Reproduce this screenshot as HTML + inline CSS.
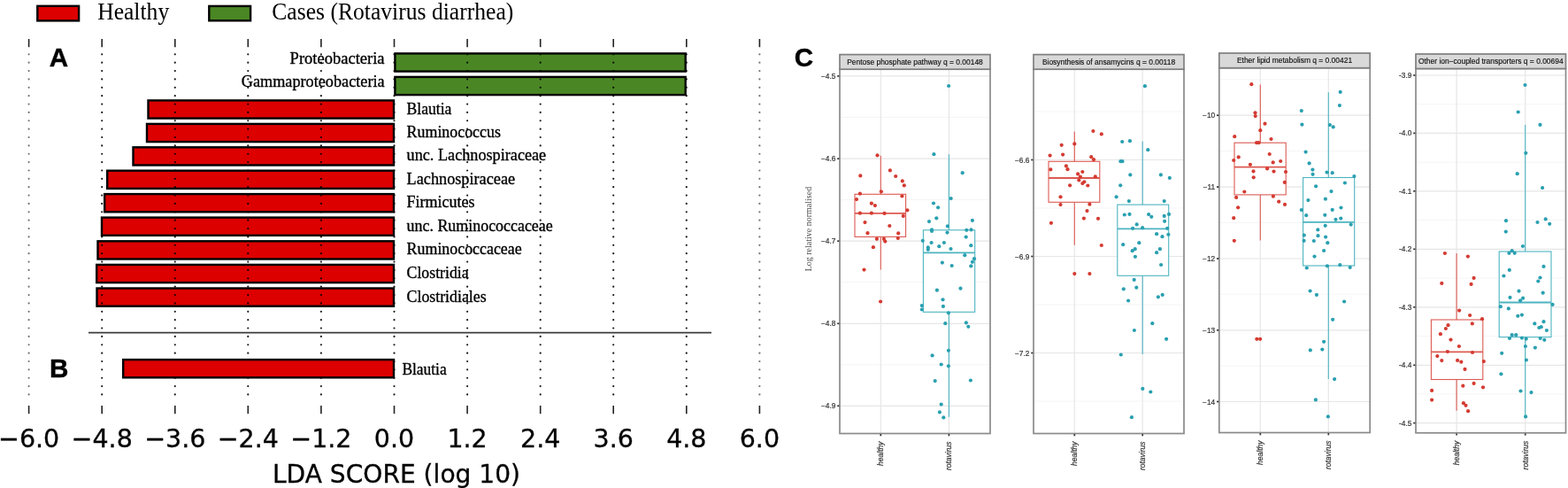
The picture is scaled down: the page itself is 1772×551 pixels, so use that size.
<!DOCTYPE html>
<html lang="en"><head><meta charset="utf-8"><title>LDA score and pathway boxplots</title>
<style>
html,body{margin:0;padding:0;background:#fff;}
body{width:1772px;height:551px;overflow:hidden;}
svg{display:block;}
.serif{font-family:"Liberation Serif","DejaVu Serif",serif;}
.sans{font-family:"Liberation Sans","DejaVu Sans",sans-serif;}
.dv{font-family:"DejaVu Sans","Liberation Sans",sans-serif;}
.lab{font-size:19.5px;fill:#000;stroke:#000;stroke-width:0.35px;}
.leg{font-size:27.2px;fill:#000;}
.tick{font-size:28.5px;fill:#000;text-anchor:middle;stroke:#000;stroke-width:0.3px;}
.pl{font-size:29.6px;font-weight:bold;fill:#000;stroke:#000;stroke-width:0.4px;}
.st{font-size:8.45px;fill:#111;text-anchor:middle;stroke:#111;stroke-width:0.15px;}
.yt{font-size:8.3px;fill:#333;text-anchor:end;stroke:#333;stroke-width:0.2px;}
.xt{font-size:8.5px;fill:#333;text-anchor:end;font-style:italic;stroke:#333;stroke-width:0.2px;}
</style></head><body>
<svg width="1772" height="551" viewBox="0 0 1772 551" role="img" aria-label="LDA score bar chart and pathway boxplots">
<rect x="0" y="0" width="1772" height="551" fill="#ffffff"/>
<g id="lda">
<rect x="42.3" y="6.8" width="46.8" height="16.6" fill="#dc0000" stroke="#000" stroke-width="2.4"/>
<rect x="236.3" y="6.9" width="46.8" height="16.4" fill="#4a8724" stroke="#000" stroke-width="2.4"/>
<text class="serif leg" x="110.2" y="21.7" textLength="81" lengthAdjust="spacingAndGlyphs">Healthy</text>
<text class="serif leg" x="307.3" y="21.7" textLength="273" lengthAdjust="spacingAndGlyphs">Cases (Rotavirus diarrhea)</text>
<rect x="446.4" y="60.4" width="328.3" height="20.2" fill="#4a8724" stroke="#000" stroke-width="2.4"/>
<rect x="446.4" y="86.9" width="328.3" height="20.2" fill="#4a8724" stroke="#000" stroke-width="2.4"/>
<rect x="167.5" y="113.4" width="277.5" height="20.2" fill="#dc0000" stroke="#000" stroke-width="2.4"/>
<rect x="166.0" y="139.9" width="279.0" height="20.2" fill="#dc0000" stroke="#000" stroke-width="2.4"/>
<rect x="150.5" y="166.3" width="294.5" height="20.2" fill="#dc0000" stroke="#000" stroke-width="2.4"/>
<rect x="121.2" y="192.7" width="323.8" height="20.2" fill="#dc0000" stroke="#000" stroke-width="2.4"/>
<rect x="118.2" y="219.1" width="326.8" height="20.2" fill="#dc0000" stroke="#000" stroke-width="2.4"/>
<rect x="115.0" y="245.6" width="330.0" height="20.2" fill="#dc0000" stroke="#000" stroke-width="2.4"/>
<rect x="110.5" y="272.3" width="334.5" height="20.2" fill="#dc0000" stroke="#000" stroke-width="2.4"/>
<rect x="109.2" y="298.9" width="335.8" height="20.2" fill="#dc0000" stroke="#000" stroke-width="2.4"/>
<rect x="109.5" y="325.5" width="335.5" height="20.2" fill="#dc0000" stroke="#000" stroke-width="2.4"/>
<line x1="100" y1="375.6" x2="804" y2="375.6" stroke="#3c3c3c" stroke-width="1.9"/>
<line x1="32.6" y1="61.3" x2="32.6" y2="452" stroke="#000" stroke-opacity="0.55" stroke-width="2.2" stroke-linecap="round" stroke-dasharray="0.01 9.36"/>
<line x1="32.6" y1="44" x2="32.6" y2="53.2" stroke="#222" stroke-width="1.6"/>
<line x1="32.6" y1="458" x2="32.6" y2="467.2" stroke="#222" stroke-width="1.6"/>
<line x1="115.2" y1="61.3" x2="115.2" y2="452" stroke="#000" stroke-opacity="0.9" stroke-width="2.2" stroke-linecap="round" stroke-dasharray="0.01 9.36"/>
<line x1="115.2" y1="44" x2="115.2" y2="53.2" stroke="#222" stroke-width="1.6"/>
<line x1="115.2" y1="458" x2="115.2" y2="467.2" stroke="#222" stroke-width="1.6"/>
<line x1="197.8" y1="61.3" x2="197.8" y2="452" stroke="#000" stroke-opacity="0.9" stroke-width="2.2" stroke-linecap="round" stroke-dasharray="0.01 9.36"/>
<line x1="197.8" y1="44" x2="197.8" y2="53.2" stroke="#222" stroke-width="1.6"/>
<line x1="197.8" y1="458" x2="197.8" y2="467.2" stroke="#222" stroke-width="1.6"/>
<line x1="280.3" y1="61.3" x2="280.3" y2="452" stroke="#000" stroke-opacity="0.9" stroke-width="2.2" stroke-linecap="round" stroke-dasharray="0.01 9.36"/>
<line x1="280.3" y1="44" x2="280.3" y2="53.2" stroke="#222" stroke-width="1.6"/>
<line x1="280.3" y1="458" x2="280.3" y2="467.2" stroke="#222" stroke-width="1.6"/>
<line x1="362.9" y1="61.3" x2="362.9" y2="452" stroke="#000" stroke-opacity="0.9" stroke-width="2.2" stroke-linecap="round" stroke-dasharray="0.01 9.36"/>
<line x1="362.9" y1="44" x2="362.9" y2="53.2" stroke="#222" stroke-width="1.6"/>
<line x1="362.9" y1="458" x2="362.9" y2="467.2" stroke="#222" stroke-width="1.6"/>
<line x1="445.5" y1="61.3" x2="445.5" y2="452" stroke="#000" stroke-opacity="0.9" stroke-width="2.2" stroke-linecap="round" stroke-dasharray="0.01 9.36"/>
<line x1="445.5" y1="44" x2="445.5" y2="53.2" stroke="#222" stroke-width="1.6"/>
<line x1="445.5" y1="458" x2="445.5" y2="467.2" stroke="#222" stroke-width="1.6"/>
<line x1="528.1" y1="61.3" x2="528.1" y2="452" stroke="#000" stroke-opacity="0.9" stroke-width="2.2" stroke-linecap="round" stroke-dasharray="0.01 9.36"/>
<line x1="528.1" y1="44" x2="528.1" y2="53.2" stroke="#222" stroke-width="1.6"/>
<line x1="528.1" y1="458" x2="528.1" y2="467.2" stroke="#222" stroke-width="1.6"/>
<line x1="610.7" y1="61.3" x2="610.7" y2="452" stroke="#000" stroke-opacity="0.9" stroke-width="2.2" stroke-linecap="round" stroke-dasharray="0.01 9.36"/>
<line x1="610.7" y1="44" x2="610.7" y2="53.2" stroke="#222" stroke-width="1.6"/>
<line x1="610.7" y1="458" x2="610.7" y2="467.2" stroke="#222" stroke-width="1.6"/>
<line x1="693.2" y1="61.3" x2="693.2" y2="452" stroke="#000" stroke-opacity="0.9" stroke-width="2.2" stroke-linecap="round" stroke-dasharray="0.01 9.36"/>
<line x1="693.2" y1="44" x2="693.2" y2="53.2" stroke="#222" stroke-width="1.6"/>
<line x1="693.2" y1="458" x2="693.2" y2="467.2" stroke="#222" stroke-width="1.6"/>
<line x1="775.8" y1="61.3" x2="775.8" y2="452" stroke="#000" stroke-opacity="0.9" stroke-width="2.2" stroke-linecap="round" stroke-dasharray="0.01 9.36"/>
<line x1="775.8" y1="44" x2="775.8" y2="53.2" stroke="#222" stroke-width="1.6"/>
<line x1="775.8" y1="458" x2="775.8" y2="467.2" stroke="#222" stroke-width="1.6"/>
<line x1="858.4" y1="61.3" x2="858.4" y2="452" stroke="#000" stroke-opacity="0.55" stroke-width="2.2" stroke-linecap="round" stroke-dasharray="0.01 9.36"/>
<line x1="858.4" y1="44" x2="858.4" y2="53.2" stroke="#222" stroke-width="1.6"/>
<line x1="858.4" y1="458" x2="858.4" y2="467.2" stroke="#222" stroke-width="1.6"/>
<rect x="139.2" y="406.1" width="305.8" height="20.2" fill="#dc0000" stroke="#000" stroke-width="2.4"/>
<text class="serif lab" x="327.6" y="71.8" textLength="107.0" lengthAdjust="spacingAndGlyphs">Proteobacteria</text>
<text class="serif lab" x="272.8" y="98.3" textLength="161.8" lengthAdjust="spacingAndGlyphs">Gammaproteobacteria</text>
<text class="serif lab" x="459.6" y="128.5" textLength="50.8" lengthAdjust="spacingAndGlyphs">Blautia</text>
<text class="serif lab" x="459.6" y="155.0" textLength="106.3" lengthAdjust="spacingAndGlyphs">Ruminococcus</text>
<text class="serif lab" x="459.6" y="181.4" textLength="157.6" lengthAdjust="spacingAndGlyphs">unc. Lachnospiraceae</text>
<text class="serif lab" x="459.6" y="207.8" textLength="122.5" lengthAdjust="spacingAndGlyphs">Lachnospiraceae</text>
<text class="serif lab" x="459.6" y="234.2" textLength="77.0" lengthAdjust="spacingAndGlyphs">Firmicutes</text>
<text class="serif lab" x="459.6" y="260.7" textLength="165.1" lengthAdjust="spacingAndGlyphs">unc. Ruminococcaceae</text>
<text class="serif lab" x="459.6" y="287.4" textLength="130.1" lengthAdjust="spacingAndGlyphs">Ruminococcaceae</text>
<text class="serif lab" x="459.6" y="314.0" textLength="70.0" lengthAdjust="spacingAndGlyphs">Clostridia</text>
<text class="serif lab" x="459.6" y="340.6" textLength="90.0" lengthAdjust="spacingAndGlyphs">Clostridiales</text>
<text class="serif lab" x="454.4" y="422.8" textLength="50.3" lengthAdjust="spacingAndGlyphs">Blautia</text>
<text class="dv tick" x="32.6" y="505.3">−6.0</text>
<text class="dv tick" x="115.2" y="505.3">−4.8</text>
<text class="dv tick" x="197.8" y="505.3">−3.6</text>
<text class="dv tick" x="280.3" y="505.3">−2.4</text>
<text class="dv tick" x="362.9" y="505.3">−1.2</text>
<text class="dv tick" x="445.5" y="505.3">0.0</text>
<text class="dv tick" x="528.1" y="505.3">1.2</text>
<text class="dv tick" x="610.7" y="505.3">2.4</text>
<text class="dv tick" x="693.2" y="505.3">3.6</text>
<text class="dv tick" x="775.8" y="505.3">4.8</text>
<text class="dv tick" x="858.4" y="505.3">6.0</text>
<text class="dv tick" x="448" y="544.5" style="font-size:28.1px">LDA SCORE (log 10)</text>
<text class="sans pl" x="55.7" y="74.9">A</text>
<text class="sans pl" x="56.0" y="425.5">B</text>
<text class="sans pl" x="897.8" y="75.0">C</text>
</g>
<defs><filter id="soft" x="-2%" y="-2%" width="104%" height="104%"><feGaussianBlur stdDeviation="0.6"/></filter></defs>
<g id="boxplots" filter="url(#soft)">
<text class="serif" font-size="10" fill="#4d4d4d" text-anchor="middle" transform="translate(916.6 258.6) rotate(-90)">Log relative normalised</text>
<rect x="949" y="78.2" width="170.0" height="411.3" fill="#fff"/>
<line x1="949" y1="132.4" x2="1119" y2="132.4" stroke="#f0f0f0" stroke-width="0.7"/>
<line x1="949" y1="225.5" x2="1119" y2="225.5" stroke="#f0f0f0" stroke-width="0.7"/>
<line x1="949" y1="318.6" x2="1119" y2="318.6" stroke="#f0f0f0" stroke-width="0.7"/>
<line x1="949" y1="411.8" x2="1119" y2="411.8" stroke="#f0f0f0" stroke-width="0.7"/>
<line x1="949" y1="85.9" x2="1119" y2="85.9" stroke="#e6e6e6" stroke-width="1.2"/>
<line x1="949" y1="179.2" x2="1119" y2="179.2" stroke="#e6e6e6" stroke-width="1.2"/>
<line x1="949" y1="272.2" x2="1119" y2="272.2" stroke="#e6e6e6" stroke-width="1.2"/>
<line x1="949" y1="365.3" x2="1119" y2="365.3" stroke="#e6e6e6" stroke-width="1.2"/>
<line x1="949" y1="458.3" x2="1119" y2="458.3" stroke="#e6e6e6" stroke-width="1.2"/>
<line x1="995.3" y1="78.2" x2="995.3" y2="489.5" stroke="#e6e6e6" stroke-width="1.2"/>
<line x1="1072.4" y1="78.2" x2="1072.4" y2="489.5" stroke="#e6e6e6" stroke-width="1.2"/>
<g stroke="#dc5a52" fill="none" stroke-width="1.1">
<line x1="995.3" y1="175.8" x2="995.3" y2="219.3"/>
<line x1="995.3" y1="267.4" x2="995.3" y2="304.4"/>
<rect x="966" y="219.3" width="57.6" height="48.1" fill="#fff"/>
<line x1="966" y1="240.9" x2="1023.6" y2="240.9" stroke-width="1.8"/>
</g>
<g fill="#d43a30">
<circle cx="991.5" cy="175.4" r="2.1"/>
<circle cx="972.3" cy="198.4" r="2.1"/>
<circle cx="1005.9" cy="192.4" r="2.1"/>
<circle cx="1012.2" cy="199.0" r="2.1"/>
<circle cx="1019.8" cy="204.4" r="2.1"/>
<circle cx="1021.8" cy="209.4" r="2.1"/>
<circle cx="995.9" cy="216.3" r="2.1"/>
<circle cx="971.9" cy="218.7" r="2.1"/>
<circle cx="1019.4" cy="221.5" r="2.1"/>
<circle cx="968.0" cy="225.1" r="2.1"/>
<circle cx="984.9" cy="229.7" r="2.1"/>
<circle cx="988.9" cy="232.1" r="2.1"/>
<circle cx="1025.4" cy="237.3" r="2.1"/>
<circle cx="971.9" cy="240.7" r="2.1"/>
<circle cx="984.9" cy="240.7" r="2.1"/>
<circle cx="999.5" cy="240.9" r="2.1"/>
<circle cx="1020.8" cy="243.9" r="2.1"/>
<circle cx="977.5" cy="251.1" r="2.1"/>
<circle cx="1005.3" cy="255.0" r="2.1"/>
<circle cx="980.5" cy="263.2" r="2.1"/>
<circle cx="1015.2" cy="263.4" r="2.1"/>
<circle cx="1014.8" cy="269.0" r="2.1"/>
<circle cx="990.9" cy="269.8" r="2.1"/>
<circle cx="998.9" cy="269.8" r="2.1"/>
<circle cx="1000.3" cy="272.6" r="2.1"/>
<circle cx="986.9" cy="279.2" r="2.1"/>
<circle cx="976.5" cy="304.6" r="2.1"/>
<circle cx="995.1" cy="340.5" r="2.1"/>
</g>
<g stroke="#4db4c0" fill="none" stroke-width="1.1">
<line x1="1072.4" y1="174.2" x2="1072.4" y2="259.8"/>
<line x1="1072.4" y1="352.3" x2="1072.4" y2="470.8"/>
<rect x="1043.4" y="259.8" width="58.3" height="92.5" fill="#fff"/>
<line x1="1043.4" y1="285.4" x2="1101.7" y2="285.4" stroke-width="1.8"/>
</g>
<g fill="#2aa0b0">
<circle cx="1072.1" cy="97.0" r="2.1"/>
<circle cx="1055.4" cy="174.2" r="2.1"/>
<circle cx="1087.7" cy="195.2" r="2.1"/>
<circle cx="1074.7" cy="224.1" r="2.1"/>
<circle cx="1055.0" cy="229.5" r="2.1"/>
<circle cx="1060.1" cy="234.3" r="2.1"/>
<circle cx="1058.3" cy="246.3" r="2.1"/>
<circle cx="1050.0" cy="250.1" r="2.1"/>
<circle cx="1098.9" cy="248.9" r="2.1"/>
<circle cx="1070.9" cy="255.4" r="2.1"/>
<circle cx="1053.0" cy="259.4" r="2.1"/>
<circle cx="1053.0" cy="261.0" r="2.1"/>
<circle cx="1070.5" cy="262.6" r="2.1"/>
<circle cx="1092.3" cy="259.8" r="2.1"/>
<circle cx="1097.5" cy="259.4" r="2.1"/>
<circle cx="1042.8" cy="271.8" r="2.1"/>
<circle cx="1091.7" cy="267.6" r="2.1"/>
<circle cx="1052.6" cy="274.0" r="2.1"/>
<circle cx="1066.9" cy="274.0" r="2.1"/>
<circle cx="1061.3" cy="278.2" r="2.1"/>
<circle cx="1048.8" cy="279.4" r="2.1"/>
<circle cx="1048.8" cy="281.8" r="2.1"/>
<circle cx="1074.5" cy="281.0" r="2.1"/>
<circle cx="1097.3" cy="277.2" r="2.1"/>
<circle cx="1090.3" cy="288.2" r="2.1"/>
<circle cx="1101.0" cy="292.2" r="2.1"/>
<circle cx="1098.9" cy="295.8" r="2.1"/>
<circle cx="1064.9" cy="296.6" r="2.1"/>
<circle cx="1097.3" cy="300.4" r="2.1"/>
<circle cx="1075.7" cy="300.0" r="2.1"/>
<circle cx="1058.9" cy="327.7" r="2.1"/>
<circle cx="1085.5" cy="325.7" r="2.1"/>
<circle cx="1065.5" cy="338.3" r="2.1"/>
<circle cx="1041.8" cy="345.1" r="2.1"/>
<circle cx="1041.8" cy="349.5" r="2.1"/>
<circle cx="1065.9" cy="345.9" r="2.1"/>
<circle cx="1071.9" cy="353.3" r="2.1"/>
<circle cx="1068.3" cy="365.2" r="2.1"/>
<circle cx="1091.9" cy="364.4" r="2.1"/>
<circle cx="1094.3" cy="368.8" r="2.1"/>
<circle cx="1071.9" cy="395.8" r="2.1"/>
<circle cx="1053.6" cy="401.4" r="2.1"/>
<circle cx="1063.7" cy="411.5" r="2.1"/>
<circle cx="1071.9" cy="413.3" r="2.1"/>
<circle cx="1056.7" cy="430.1" r="2.1"/>
<circle cx="1096.9" cy="429.5" r="2.1"/>
<circle cx="1063.7" cy="456.6" r="2.1"/>
<circle cx="1061.9" cy="465.4" r="2.1"/>
<circle cx="1066.3" cy="471.4" r="2.1"/>
</g>
<rect x="949" y="78.2" width="170.0" height="411.3" fill="none" stroke="#8a8a8a" stroke-width="1.7"/>
<rect x="949" y="61.6" width="170.0" height="16.6" fill="#d9d9d9" stroke="#7f7f7f" stroke-width="1.7"/>
<text class="sans st" x="1034.0" y="72.9">Pentose phosphate pathway q = 0.00148</text>
<line x1="946.2" y1="85.9" x2="948.4" y2="85.9" stroke="#333" stroke-width="1.7"/>
<text class="sans yt" x="944.4" y="88.9">−4.5</text>
<line x1="946.2" y1="179.2" x2="948.4" y2="179.2" stroke="#333" stroke-width="1.7"/>
<text class="sans yt" x="944.4" y="182.2">−4.6</text>
<line x1="946.2" y1="272.2" x2="948.4" y2="272.2" stroke="#333" stroke-width="1.7"/>
<text class="sans yt" x="944.4" y="275.2">−4.7</text>
<line x1="946.2" y1="365.3" x2="948.4" y2="365.3" stroke="#333" stroke-width="1.7"/>
<text class="sans yt" x="944.4" y="368.3">−4.8</text>
<line x1="946.2" y1="458.3" x2="948.4" y2="458.3" stroke="#333" stroke-width="1.7"/>
<text class="sans yt" x="944.4" y="461.3">−4.9</text>
<line x1="995.3" y1="490.1" x2="995.3" y2="492.3" stroke="#333" stroke-width="1.7"/>
<text class="sans xt" transform="translate(998.3 498.5) rotate(-90)">healthy</text>
<line x1="1072.4" y1="490.1" x2="1072.4" y2="492.3" stroke="#333" stroke-width="1.7"/>
<text class="sans xt" transform="translate(1075.4 498.5) rotate(-90)">rotavirus</text>
<rect x="1168" y="78.2" width="170.0" height="411.3" fill="#fff"/>
<line x1="1168" y1="126.0" x2="1338" y2="126.0" stroke="#f0f0f0" stroke-width="0.7"/>
<line x1="1168" y1="235.0" x2="1338" y2="235.0" stroke="#f0f0f0" stroke-width="0.7"/>
<line x1="1168" y1="344.0" x2="1338" y2="344.0" stroke="#f0f0f0" stroke-width="0.7"/>
<line x1="1168" y1="453.0" x2="1338" y2="453.0" stroke="#f0f0f0" stroke-width="0.7"/>
<line x1="1168" y1="180.5" x2="1338" y2="180.5" stroke="#e6e6e6" stroke-width="1.2"/>
<line x1="1168" y1="289.5" x2="1338" y2="289.5" stroke="#e6e6e6" stroke-width="1.2"/>
<line x1="1168" y1="398.5" x2="1338" y2="398.5" stroke="#e6e6e6" stroke-width="1.2"/>
<line x1="1214.3" y1="78.2" x2="1214.3" y2="489.5" stroke="#e6e6e6" stroke-width="1.2"/>
<line x1="1291.2" y1="78.2" x2="1291.2" y2="489.5" stroke="#e6e6e6" stroke-width="1.2"/>
<g stroke="#dc5a52" fill="none" stroke-width="1.1">
<line x1="1214.3" y1="148.4" x2="1214.3" y2="182.3"/>
<line x1="1214.3" y1="228.3" x2="1214.3" y2="276.8"/>
<rect x="1185" y="182.3" width="57.8" height="46.0" fill="#fff"/>
<line x1="1185" y1="201" x2="1242.8" y2="201" stroke-width="1.8"/>
</g>
<g fill="#d43a30">
<circle cx="1235.4" cy="148.0" r="2.1"/>
<circle cx="1244.8" cy="151.4" r="2.1"/>
<circle cx="1199.7" cy="163.8" r="2.1"/>
<circle cx="1214.3" cy="162.4" r="2.1"/>
<circle cx="1201.1" cy="174.6" r="2.1"/>
<circle cx="1186.6" cy="175.6" r="2.1"/>
<circle cx="1233.2" cy="177.2" r="2.1"/>
<circle cx="1236.0" cy="180.2" r="2.1"/>
<circle cx="1204.9" cy="187.4" r="2.1"/>
<circle cx="1206.5" cy="191.2" r="2.1"/>
<circle cx="1187.3" cy="191.4" r="2.1"/>
<circle cx="1223.3" cy="194.0" r="2.1"/>
<circle cx="1218.1" cy="196.4" r="2.1"/>
<circle cx="1220.9" cy="199.6" r="2.1"/>
<circle cx="1237.8" cy="199.4" r="2.1"/>
<circle cx="1219.3" cy="203.5" r="2.1"/>
<circle cx="1225.3" cy="205.3" r="2.1"/>
<circle cx="1223.3" cy="207.1" r="2.1"/>
<circle cx="1209.1" cy="209.3" r="2.1"/>
<circle cx="1229.3" cy="209.5" r="2.1"/>
<circle cx="1198.5" cy="222.3" r="2.1"/>
<circle cx="1198.5" cy="231.1" r="2.1"/>
<circle cx="1231.4" cy="230.7" r="2.1"/>
<circle cx="1228.5" cy="238.1" r="2.1"/>
<circle cx="1224.9" cy="246.6" r="2.1"/>
<circle cx="1241.0" cy="246.8" r="2.1"/>
<circle cx="1187.9" cy="251.8" r="2.1"/>
<circle cx="1244.8" cy="277.0" r="2.1"/>
<circle cx="1214.3" cy="309.1" r="2.1"/>
<circle cx="1231.4" cy="309.1" r="2.1"/>
</g>
<g stroke="#4db4c0" fill="none" stroke-width="1.1">
<line x1="1291.2" y1="159.4" x2="1291.2" y2="231.1"/>
<line x1="1291.2" y1="311.3" x2="1291.2" y2="400"/>
<rect x="1262.8" y="231.1" width="57.9" height="80.2" fill="#fff"/>
<line x1="1262.8" y1="258.4" x2="1320.7" y2="258.4" stroke-width="1.8"/>
</g>
<g fill="#2aa0b0">
<circle cx="1293.9" cy="97.2" r="2.1"/>
<circle cx="1268.2" cy="160.0" r="2.1"/>
<circle cx="1276.9" cy="159.2" r="2.1"/>
<circle cx="1297.3" cy="169.2" r="2.1"/>
<circle cx="1266.4" cy="182.2" r="2.1"/>
<circle cx="1268.4" cy="182.2" r="2.1"/>
<circle cx="1277.3" cy="197.4" r="2.1"/>
<circle cx="1311.9" cy="197.4" r="2.1"/>
<circle cx="1321.8" cy="200.9" r="2.1"/>
<circle cx="1266.2" cy="209.3" r="2.1"/>
<circle cx="1261.6" cy="222.3" r="2.1"/>
<circle cx="1275.9" cy="227.1" r="2.1"/>
<circle cx="1315.7" cy="227.1" r="2.1"/>
<circle cx="1270.8" cy="242.5" r="2.1"/>
<circle cx="1276.5" cy="241.9" r="2.1"/>
<circle cx="1298.1" cy="242.1" r="2.1"/>
<circle cx="1301.3" cy="244.8" r="2.1"/>
<circle cx="1315.7" cy="243.9" r="2.1"/>
<circle cx="1321.0" cy="241.9" r="2.1"/>
<circle cx="1316.1" cy="249.8" r="2.1"/>
<circle cx="1284.7" cy="253.4" r="2.1"/>
<circle cx="1280.1" cy="257.8" r="2.1"/>
<circle cx="1291.1" cy="257.2" r="2.1"/>
<circle cx="1319.2" cy="257.8" r="2.1"/>
<circle cx="1307.1" cy="264.2" r="2.1"/>
<circle cx="1320.4" cy="264.8" r="2.1"/>
<circle cx="1313.5" cy="267.2" r="2.1"/>
<circle cx="1269.2" cy="276.2" r="2.1"/>
<circle cx="1287.3" cy="274.2" r="2.1"/>
<circle cx="1282.7" cy="281.2" r="2.1"/>
<circle cx="1279.7" cy="283.2" r="2.1"/>
<circle cx="1310.9" cy="281.2" r="2.1"/>
<circle cx="1307.1" cy="285.2" r="2.1"/>
<circle cx="1282.9" cy="289.8" r="2.1"/>
<circle cx="1312.1" cy="299.0" r="2.1"/>
<circle cx="1281.7" cy="315.9" r="2.1"/>
<circle cx="1269.8" cy="326.3" r="2.1"/>
<circle cx="1284.3" cy="324.7" r="2.1"/>
<circle cx="1313.7" cy="332.9" r="2.1"/>
<circle cx="1308.9" cy="335.3" r="2.1"/>
<circle cx="1275.1" cy="339.5" r="2.1"/>
<circle cx="1302.3" cy="365.2" r="2.1"/>
<circle cx="1281.9" cy="373.0" r="2.1"/>
<circle cx="1318.1" cy="382.8" r="2.1"/>
<circle cx="1266.8" cy="400.5" r="2.1"/>
<circle cx="1291.3" cy="438.9" r="2.1"/>
<circle cx="1300.3" cy="442.5" r="2.1"/>
<circle cx="1278.9" cy="471.2" r="2.1"/>
</g>
<rect x="1168" y="78.2" width="170.0" height="411.3" fill="none" stroke="#8a8a8a" stroke-width="1.7"/>
<rect x="1168" y="61.6" width="170.0" height="16.6" fill="#d9d9d9" stroke="#7f7f7f" stroke-width="1.7"/>
<text class="sans st" x="1253.0" y="72.9">Biosynthesis of ansamycins q = 0.00118</text>
<line x1="1165.2" y1="180.5" x2="1167.4" y2="180.5" stroke="#333" stroke-width="1.7"/>
<text class="sans yt" x="1163.4" y="183.5">−6.6</text>
<line x1="1165.2" y1="289.5" x2="1167.4" y2="289.5" stroke="#333" stroke-width="1.7"/>
<text class="sans yt" x="1163.4" y="292.5">−6.9</text>
<line x1="1165.2" y1="398.5" x2="1167.4" y2="398.5" stroke="#333" stroke-width="1.7"/>
<text class="sans yt" x="1163.4" y="401.5">−7.2</text>
<line x1="1214.3" y1="490.1" x2="1214.3" y2="492.3" stroke="#333" stroke-width="1.7"/>
<text class="sans xt" transform="translate(1217.3 498.5) rotate(-90)">healthy</text>
<line x1="1291.2" y1="490.1" x2="1291.2" y2="492.3" stroke="#333" stroke-width="1.7"/>
<text class="sans xt" transform="translate(1294.2 498.5) rotate(-90)">rotavirus</text>
<rect x="1377.8" y="76.7" width="170.4" height="411.8" fill="#fff"/>
<line x1="1377.8" y1="89.8" x2="1548.2" y2="89.8" stroke="#f0f0f0" stroke-width="0.7"/>
<line x1="1377.8" y1="170.6" x2="1548.2" y2="170.6" stroke="#f0f0f0" stroke-width="0.7"/>
<line x1="1377.8" y1="251.4" x2="1548.2" y2="251.4" stroke="#f0f0f0" stroke-width="0.7"/>
<line x1="1377.8" y1="332.3" x2="1548.2" y2="332.3" stroke="#f0f0f0" stroke-width="0.7"/>
<line x1="1377.8" y1="413.1" x2="1548.2" y2="413.1" stroke="#f0f0f0" stroke-width="0.7"/>
<line x1="1377.8" y1="130.2" x2="1548.2" y2="130.2" stroke="#e6e6e6" stroke-width="1.2"/>
<line x1="1377.8" y1="211.1" x2="1548.2" y2="211.1" stroke="#e6e6e6" stroke-width="1.2"/>
<line x1="1377.8" y1="292.0" x2="1548.2" y2="292.0" stroke="#e6e6e6" stroke-width="1.2"/>
<line x1="1377.8" y1="372.8" x2="1548.2" y2="372.8" stroke="#e6e6e6" stroke-width="1.2"/>
<line x1="1377.8" y1="453.5" x2="1548.2" y2="453.5" stroke="#e6e6e6" stroke-width="1.2"/>
<line x1="1424.3" y1="76.7" x2="1424.3" y2="488.5" stroke="#e6e6e6" stroke-width="1.2"/>
<line x1="1501.3" y1="76.7" x2="1501.3" y2="488.5" stroke="#e6e6e6" stroke-width="1.2"/>
<g stroke="#dc5a52" fill="none" stroke-width="1.1">
<line x1="1424.3" y1="95.4" x2="1424.3" y2="161.2"/>
<line x1="1424.3" y1="219.9" x2="1424.3" y2="271.4"/>
<rect x="1395" y="161.2" width="58.2" height="58.7" fill="#fff"/>
<line x1="1395" y1="188.6" x2="1453.2" y2="188.6" stroke-width="1.8"/>
</g>
<g fill="#d43a30">
<circle cx="1414.3" cy="95.2" r="2.1"/>
<circle cx="1418.5" cy="127.3" r="2.1"/>
<circle cx="1418.7" cy="131.1" r="2.1"/>
<circle cx="1429.5" cy="139.7" r="2.1"/>
<circle cx="1424.3" cy="147.2" r="2.1"/>
<circle cx="1395.2" cy="154.2" r="2.1"/>
<circle cx="1436.5" cy="157.0" r="2.1"/>
<circle cx="1420.1" cy="161.2" r="2.1"/>
<circle cx="1422.5" cy="161.2" r="2.1"/>
<circle cx="1434.7" cy="174.0" r="2.1"/>
<circle cx="1399.7" cy="177.4" r="2.1"/>
<circle cx="1394.2" cy="181.0" r="2.1"/>
<circle cx="1438.7" cy="183.4" r="2.1"/>
<circle cx="1447.2" cy="182.0" r="2.1"/>
<circle cx="1412.9" cy="185.8" r="2.1"/>
<circle cx="1416.5" cy="193.4" r="2.1"/>
<circle cx="1432.1" cy="190.4" r="2.1"/>
<circle cx="1439.5" cy="193.6" r="2.1"/>
<circle cx="1453.0" cy="194.0" r="2.1"/>
<circle cx="1416.7" cy="200.3" r="2.1"/>
<circle cx="1451.8" cy="205.9" r="2.1"/>
<circle cx="1406.3" cy="216.5" r="2.1"/>
<circle cx="1397.1" cy="222.9" r="2.1"/>
<circle cx="1438.9" cy="221.7" r="2.1"/>
<circle cx="1445.2" cy="227.7" r="2.1"/>
<circle cx="1452.0" cy="230.9" r="2.1"/>
<circle cx="1399.1" cy="234.3" r="2.1"/>
<circle cx="1394.2" cy="246.2" r="2.1"/>
<circle cx="1394.8" cy="271.8" r="2.1"/>
<circle cx="1420.3" cy="382.8" r="2.1"/>
<circle cx="1424.1" cy="382.8" r="2.1"/>
</g>
<g stroke="#4db4c0" fill="none" stroke-width="1.1">
<line x1="1501.3" y1="104.3" x2="1501.3" y2="200.5"/>
<line x1="1501.3" y1="300" x2="1501.3" y2="427.9"/>
<rect x="1472.6" y="200.5" width="58.1" height="99.5" fill="#fff"/>
<line x1="1472.6" y1="250.8" x2="1530.7" y2="250.8" stroke-width="1.8"/>
</g>
<g fill="#2aa0b0">
<circle cx="1514.7" cy="103.9" r="2.1"/>
<circle cx="1513.9" cy="119.1" r="2.1"/>
<circle cx="1470.8" cy="125.1" r="2.1"/>
<circle cx="1471.4" cy="140.7" r="2.1"/>
<circle cx="1502.9" cy="141.1" r="2.1"/>
<circle cx="1506.7" cy="143.4" r="2.1"/>
<circle cx="1475.6" cy="171.6" r="2.1"/>
<circle cx="1479.6" cy="184.4" r="2.1"/>
<circle cx="1483.4" cy="191.6" r="2.1"/>
<circle cx="1483.6" cy="196.8" r="2.1"/>
<circle cx="1499.5" cy="194.6" r="2.1"/>
<circle cx="1505.7" cy="195.2" r="2.1"/>
<circle cx="1530.4" cy="199.1" r="2.1"/>
<circle cx="1519.9" cy="206.5" r="2.1"/>
<circle cx="1487.1" cy="210.3" r="2.1"/>
<circle cx="1504.5" cy="216.1" r="2.1"/>
<circle cx="1478.4" cy="226.1" r="2.1"/>
<circle cx="1497.9" cy="224.7" r="2.1"/>
<circle cx="1470.8" cy="237.1" r="2.1"/>
<circle cx="1505.7" cy="236.9" r="2.1"/>
<circle cx="1515.5" cy="234.5" r="2.1"/>
<circle cx="1476.2" cy="243.2" r="2.1"/>
<circle cx="1497.3" cy="242.8" r="2.1"/>
<circle cx="1509.5" cy="247.8" r="2.1"/>
<circle cx="1515.3" cy="246.6" r="2.1"/>
<circle cx="1526.7" cy="253.6" r="2.1"/>
<circle cx="1497.7" cy="254.8" r="2.1"/>
<circle cx="1489.3" cy="259.4" r="2.1"/>
<circle cx="1473.8" cy="265.6" r="2.1"/>
<circle cx="1489.5" cy="266.2" r="2.1"/>
<circle cx="1498.1" cy="267.6" r="2.1"/>
<circle cx="1473.6" cy="271.8" r="2.1"/>
<circle cx="1484.8" cy="272.0" r="2.1"/>
<circle cx="1500.3" cy="274.2" r="2.1"/>
<circle cx="1496.1" cy="283.0" r="2.1"/>
<circle cx="1485.5" cy="289.6" r="2.1"/>
<circle cx="1476.8" cy="302.5" r="2.1"/>
<circle cx="1499.9" cy="300.3" r="2.1"/>
<circle cx="1514.3" cy="299.1" r="2.1"/>
<circle cx="1525.7" cy="301.9" r="2.1"/>
<circle cx="1480.6" cy="328.5" r="2.1"/>
<circle cx="1487.9" cy="332.9" r="2.1"/>
<circle cx="1519.1" cy="340.5" r="2.1"/>
<circle cx="1506.1" cy="360.8" r="2.1"/>
<circle cx="1496.1" cy="385.8" r="2.1"/>
<circle cx="1480.8" cy="395.4" r="2.1"/>
<circle cx="1494.3" cy="394.6" r="2.1"/>
<circle cx="1508.1" cy="428.1" r="2.1"/>
<circle cx="1486.9" cy="451.4" r="2.1"/>
<circle cx="1500.9" cy="470.4" r="2.1"/>
</g>
<rect x="1377.8" y="76.7" width="170.4" height="411.8" fill="none" stroke="#8a8a8a" stroke-width="1.7"/>
<rect x="1377.8" y="60" width="170.4" height="16.7" fill="#d9d9d9" stroke="#7f7f7f" stroke-width="1.7"/>
<text class="sans st" x="1463.0" y="71.3">Ether lipid metabolism q = 0.00421</text>
<line x1="1375.0" y1="130.2" x2="1377.2" y2="130.2" stroke="#333" stroke-width="1.7"/>
<text class="sans yt" x="1373.2" y="133.2">−10</text>
<line x1="1375.0" y1="211.1" x2="1377.2" y2="211.1" stroke="#333" stroke-width="1.7"/>
<text class="sans yt" x="1373.2" y="214.1">−11</text>
<line x1="1375.0" y1="292.0" x2="1377.2" y2="292.0" stroke="#333" stroke-width="1.7"/>
<text class="sans yt" x="1373.2" y="295.0">−12</text>
<line x1="1375.0" y1="372.8" x2="1377.2" y2="372.8" stroke="#333" stroke-width="1.7"/>
<text class="sans yt" x="1373.2" y="375.8">−13</text>
<line x1="1375.0" y1="453.5" x2="1377.2" y2="453.5" stroke="#333" stroke-width="1.7"/>
<text class="sans yt" x="1373.2" y="456.5">−14</text>
<line x1="1424.3" y1="489.1" x2="1424.3" y2="491.3" stroke="#333" stroke-width="1.7"/>
<text class="sans xt" transform="translate(1427.3 497.5) rotate(-90)">healthy</text>
<line x1="1501.3" y1="489.1" x2="1501.3" y2="491.3" stroke="#333" stroke-width="1.7"/>
<text class="sans xt" transform="translate(1504.3 497.5) rotate(-90)">rotavirus</text>
<rect x="1600" y="77.5" width="169.5" height="411.3" fill="#fff"/>
<line x1="1600" y1="117.7" x2="1769.5" y2="117.7" stroke="#f0f0f0" stroke-width="0.7"/>
<line x1="1600" y1="183.2" x2="1769.5" y2="183.2" stroke="#f0f0f0" stroke-width="0.7"/>
<line x1="1600" y1="248.6" x2="1769.5" y2="248.6" stroke="#f0f0f0" stroke-width="0.7"/>
<line x1="1600" y1="314.0" x2="1769.5" y2="314.0" stroke="#f0f0f0" stroke-width="0.7"/>
<line x1="1600" y1="379.4" x2="1769.5" y2="379.4" stroke="#f0f0f0" stroke-width="0.7"/>
<line x1="1600" y1="444.9" x2="1769.5" y2="444.9" stroke="#f0f0f0" stroke-width="0.7"/>
<line x1="1600" y1="85.0" x2="1769.5" y2="85.0" stroke="#e6e6e6" stroke-width="1.2"/>
<line x1="1600" y1="150.4" x2="1769.5" y2="150.4" stroke="#e6e6e6" stroke-width="1.2"/>
<line x1="1600" y1="215.8" x2="1769.5" y2="215.8" stroke="#e6e6e6" stroke-width="1.2"/>
<line x1="1600" y1="281.3" x2="1769.5" y2="281.3" stroke="#e6e6e6" stroke-width="1.2"/>
<line x1="1600" y1="346.8" x2="1769.5" y2="346.8" stroke="#e6e6e6" stroke-width="1.2"/>
<line x1="1600" y1="412.3" x2="1769.5" y2="412.3" stroke="#e6e6e6" stroke-width="1.2"/>
<line x1="1600" y1="477.6" x2="1769.5" y2="477.6" stroke="#e6e6e6" stroke-width="1.2"/>
<line x1="1646.1" y1="77.5" x2="1646.1" y2="488.8" stroke="#e6e6e6" stroke-width="1.2"/>
<line x1="1723.7" y1="77.5" x2="1723.7" y2="488.8" stroke="#e6e6e6" stroke-width="1.2"/>
<g stroke="#dc5a52" fill="none" stroke-width="1.1">
<line x1="1646.1" y1="286" x2="1646.1" y2="361"/>
<line x1="1646.1" y1="428.5" x2="1646.1" y2="463.8"/>
<rect x="1617.4" y="361" width="58.4" height="67.5" fill="#fff"/>
<line x1="1617.4" y1="397.4" x2="1675.8" y2="397.4" stroke-width="1.8"/>
</g>
<g fill="#d43a30">
<circle cx="1632.9" cy="286.0" r="2.1"/>
<circle cx="1658.9" cy="289.6" r="2.1"/>
<circle cx="1665.6" cy="313.9" r="2.1"/>
<circle cx="1629.3" cy="319.9" r="2.1"/>
<circle cx="1662.6" cy="320.9" r="2.1"/>
<circle cx="1649.1" cy="350.6" r="2.1"/>
<circle cx="1661.1" cy="356.0" r="2.1"/>
<circle cx="1675.0" cy="360.2" r="2.1"/>
<circle cx="1663.8" cy="365.4" r="2.1"/>
<circle cx="1636.5" cy="367.2" r="2.1"/>
<circle cx="1633.9" cy="371.0" r="2.1"/>
<circle cx="1627.9" cy="377.2" r="2.1"/>
<circle cx="1639.5" cy="383.6" r="2.1"/>
<circle cx="1648.9" cy="391.0" r="2.1"/>
<circle cx="1635.9" cy="397.0" r="2.1"/>
<circle cx="1664.0" cy="398.0" r="2.1"/>
<circle cx="1624.3" cy="402.1" r="2.1"/>
<circle cx="1629.3" cy="407.1" r="2.1"/>
<circle cx="1647.1" cy="406.9" r="2.1"/>
<circle cx="1651.3" cy="408.7" r="2.1"/>
<circle cx="1676.8" cy="408.1" r="2.1"/>
<circle cx="1655.5" cy="416.9" r="2.1"/>
<circle cx="1653.3" cy="435.7" r="2.1"/>
<circle cx="1665.6" cy="432.9" r="2.1"/>
<circle cx="1676.0" cy="437.3" r="2.1"/>
<circle cx="1618.1" cy="440.9" r="2.1"/>
<circle cx="1618.1" cy="451.6" r="2.1"/>
<circle cx="1653.9" cy="455.2" r="2.1"/>
<circle cx="1656.5" cy="457.8" r="2.1"/>
<circle cx="1659.1" cy="464.2" r="2.1"/>
</g>
<g stroke="#4db4c0" fill="none" stroke-width="1.1">
<line x1="1723.7" y1="140.9" x2="1723.7" y2="284"/>
<line x1="1723.7" y1="380.6" x2="1723.7" y2="470.2"/>
<rect x="1694.2" y="284" width="58.8" height="96.6" fill="#fff"/>
<line x1="1694.2" y1="341.5" x2="1753" y2="341.5" stroke-width="1.8"/>
</g>
<g fill="#2aa0b0">
<circle cx="1723.5" cy="96.0" r="2.1"/>
<circle cx="1715.7" cy="126.5" r="2.1"/>
<circle cx="1740.5" cy="140.9" r="2.1"/>
<circle cx="1724.3" cy="172.8" r="2.1"/>
<circle cx="1714.7" cy="196.2" r="2.1"/>
<circle cx="1743.1" cy="212.1" r="2.1"/>
<circle cx="1702.0" cy="249.2" r="2.1"/>
<circle cx="1746.7" cy="247.4" r="2.1"/>
<circle cx="1737.5" cy="251.0" r="2.1"/>
<circle cx="1751.2" cy="252.8" r="2.1"/>
<circle cx="1701.8" cy="261.6" r="2.1"/>
<circle cx="1720.9" cy="278.0" r="2.1"/>
<circle cx="1708.7" cy="283.2" r="2.1"/>
<circle cx="1705.4" cy="285.8" r="2.1"/>
<circle cx="1711.7" cy="285.8" r="2.1"/>
<circle cx="1744.5" cy="300.9" r="2.1"/>
<circle cx="1705.8" cy="304.9" r="2.1"/>
<circle cx="1699.4" cy="311.5" r="2.1"/>
<circle cx="1740.5" cy="313.5" r="2.1"/>
<circle cx="1738.3" cy="317.5" r="2.1"/>
<circle cx="1716.5" cy="328.7" r="2.1"/>
<circle cx="1743.7" cy="330.7" r="2.1"/>
<circle cx="1706.5" cy="335.9" r="2.1"/>
<circle cx="1721.1" cy="336.7" r="2.1"/>
<circle cx="1718.1" cy="339.3" r="2.1"/>
<circle cx="1754.6" cy="343.9" r="2.1"/>
<circle cx="1695.8" cy="346.2" r="2.1"/>
<circle cx="1704.8" cy="348.4" r="2.1"/>
<circle cx="1715.3" cy="356.8" r="2.1"/>
<circle cx="1719.9" cy="355.6" r="2.1"/>
<circle cx="1744.5" cy="363.2" r="2.1"/>
<circle cx="1734.3" cy="365.4" r="2.1"/>
<circle cx="1739.3" cy="370.0" r="2.1"/>
<circle cx="1741.7" cy="369.2" r="2.1"/>
<circle cx="1747.9" cy="373.0" r="2.1"/>
<circle cx="1708.7" cy="378.2" r="2.1"/>
<circle cx="1713.3" cy="378.2" r="2.1"/>
<circle cx="1706.0" cy="382.0" r="2.1"/>
<circle cx="1719.9" cy="381.6" r="2.1"/>
<circle cx="1724.7" cy="382.6" r="2.1"/>
<circle cx="1740.7" cy="382.0" r="2.1"/>
<circle cx="1745.3" cy="383.8" r="2.1"/>
<circle cx="1723.9" cy="391.0" r="2.1"/>
<circle cx="1734.9" cy="392.6" r="2.1"/>
<circle cx="1697.2" cy="398.8" r="2.1"/>
<circle cx="1724.9" cy="406.5" r="2.1"/>
<circle cx="1696.4" cy="422.3" r="2.1"/>
<circle cx="1718.5" cy="441.5" r="2.1"/>
<circle cx="1730.5" cy="443.1" r="2.1"/>
<circle cx="1724.1" cy="470.4" r="2.1"/>
</g>
<rect x="1600" y="77.5" width="169.5" height="411.3" fill="none" stroke="#8a8a8a" stroke-width="1.7"/>
<rect x="1600" y="61" width="169.5" height="16.5" fill="#d9d9d9" stroke="#7f7f7f" stroke-width="1.7"/>
<text class="sans st" x="1684.8" y="72.2">Other ion−coupled transporters q = 0.00694</text>
<line x1="1597.2" y1="85.0" x2="1599.4" y2="85.0" stroke="#333" stroke-width="1.7"/>
<text class="sans yt" x="1595.4" y="88.0">-3.9</text>
<line x1="1597.2" y1="150.4" x2="1599.4" y2="150.4" stroke="#333" stroke-width="1.7"/>
<text class="sans yt" x="1595.4" y="153.4">-4.0</text>
<line x1="1597.2" y1="215.8" x2="1599.4" y2="215.8" stroke="#333" stroke-width="1.7"/>
<text class="sans yt" x="1595.4" y="218.8">-4.1</text>
<line x1="1597.2" y1="281.3" x2="1599.4" y2="281.3" stroke="#333" stroke-width="1.7"/>
<text class="sans yt" x="1595.4" y="284.3">-4.2</text>
<line x1="1597.2" y1="346.8" x2="1599.4" y2="346.8" stroke="#333" stroke-width="1.7"/>
<text class="sans yt" x="1595.4" y="349.8">-4.3</text>
<line x1="1597.2" y1="412.3" x2="1599.4" y2="412.3" stroke="#333" stroke-width="1.7"/>
<text class="sans yt" x="1595.4" y="415.3">-4.4</text>
<line x1="1597.2" y1="477.6" x2="1599.4" y2="477.6" stroke="#333" stroke-width="1.7"/>
<text class="sans yt" x="1595.4" y="480.6">-4.5</text>
<line x1="1646.1" y1="489.4" x2="1646.1" y2="491.6" stroke="#333" stroke-width="1.7"/>
<text class="sans xt" transform="translate(1649.1 497.8) rotate(-90)">healthy</text>
<line x1="1723.7" y1="489.4" x2="1723.7" y2="491.6" stroke="#333" stroke-width="1.7"/>
<text class="sans xt" transform="translate(1726.7 497.8) rotate(-90)">rotavirus</text>
</g>
</svg>
</body></html>
